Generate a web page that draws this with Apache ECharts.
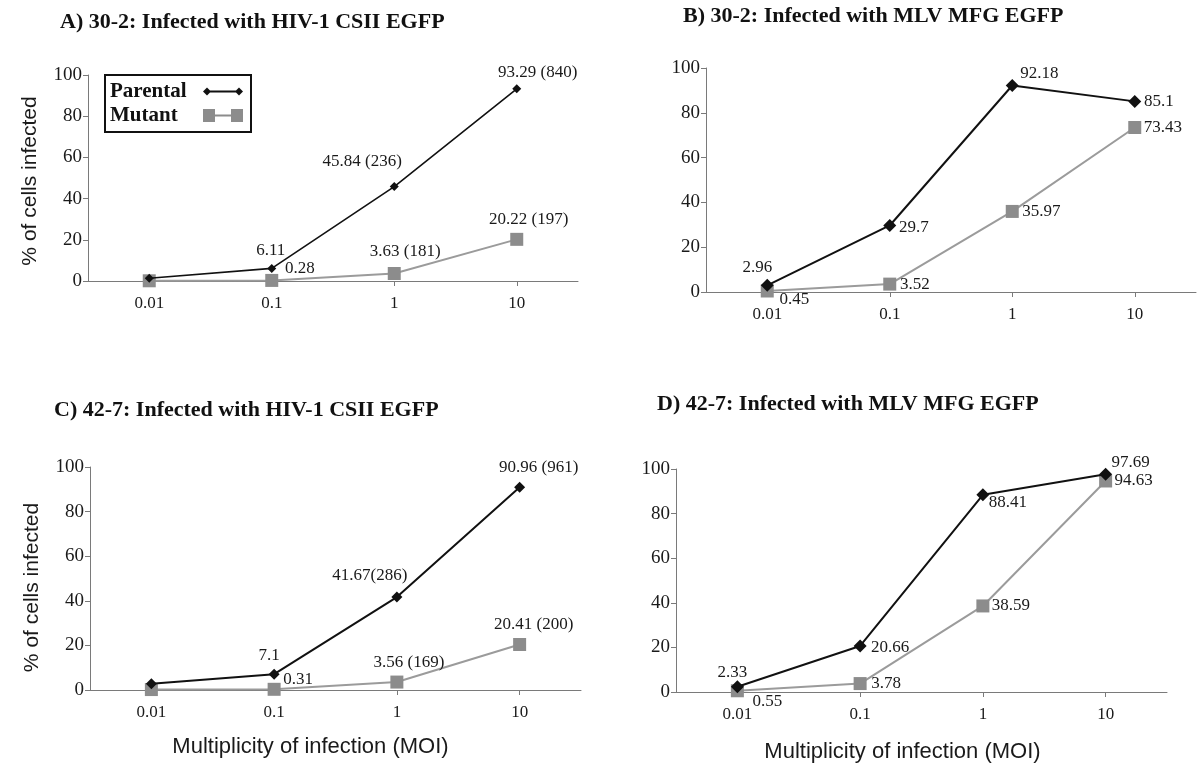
<!DOCTYPE html>
<html><head><meta charset="utf-8">
<script src="https://cdn.jsdelivr.net/npm/echarts@6/dist/echarts.min.js"></script>
<style>html,body{margin:0;padding:0;background:#fff}#c{width:1200px;height:772px}</style>
</head><body><div id="c"></div>
<script>
// ---- data ----
const categories = ['0.01', '0.1', '1', '10'];
const yTicks = [0, 20, 40, 60, 80, 100];
const titles = [
  'A) 30-2: Infected with HIV-1 CSII EGFP',
  'B) 30-2: Infected with MLV MFG EGFP',
  'C) 42-7: Infected with HIV-1 CSII EGFP',
  'D) 42-7: Infected with MLV MFG EGFP'
];
const seriesNames = ['Parental', 'Mutant'];
const yAxisName = '% of cells infected';
const xAxisName = 'Multiplicity of infection (MOI)';

const parentalA = [1.3, 6.11, 45.84, 93.29];
const mutantA   = [0.1, 0.28, 3.63, 20.22];
const parentalB = [2.96, 29.7, 92.18, 85.1];
const mutantB   = [0.45, 3.52, 35.97, 73.43];
const parentalC = [2.8, 7.1, 41.67, 90.96];
const mutantC   = [0.2, 0.31, 3.56, 20.41];
const parentalD = [2.33, 20.66, 88.41, 97.69];
const mutantD   = [0.55, 3.78, 38.59, 94.63];

const labelsParentalA = ['', '6.11', '45.84 (236)', '93.29 (840)'];
const labelsMutantA   = ['', '0.28', '3.63 (181)', '20.22 (197)'];
const labelsParentalB = ['2.96', '29.7', '92.18', '85.1'];
const labelsMutantB   = ['0.45', '3.52', '35.97', '73.43'];
const labelsParentalC = ['', '7.1', '41.67(286)', '90.96 (961)'];
const labelsMutantC   = ['', '0.31', '3.56 (169)', '20.41 (200)'];
const labelsParentalD = ['2.33', '20.66', '88.41', '97.69'];
const labelsMutantD   = ['0.55', '3.78', '38.59', '94.63'];

// ---- layout (label offsets from point centre, px) ----
const offParA = [[0,0],[-1,-18],[-32,-25],[21,-16]];
const offMutA = [[0,0],[28,-12],[11,-22],[12,-20]];
const offParB = [[-10,-18],[24,2],[27,-12],[24,0]];
const offMutB = [[27,9],[25,0],[29,0],[28,0]];
const offParC = [[0,0],[-5,-19],[-27,-22],[19,-20]];
const offMutC = [[0,0],[24,-10],[12,-20],[14,-20]];
const offParD = [[-5,-14],[30,2],[25,8],[25,-12]];
const offMutD = [[30,11],[26,0],[28,0],[28,0]];

const SERIF = "'Liberation Serif','Times New Roman',serif";
const SANS = "'Liberation Sans',Arial,sans-serif";

const grids = [
  {left: 88, top: 75, width: 490, height: 206},
  {left: 706, top: 68, width: 490, height: 224},
  {left: 90, top: 467, width: 491, height: 223},
  {left: 676, top: 469, width: 491, height: 223}
];
const titlePos = [[60, 11], [683, 5], [54, 399], [657, 393]];
const diamondSizes = [9, 13, 11, 13];
const xNamePad = [0, 0, 50, 38];
const yNamePad = [6, 0, 18, 0];

const panels = [
  [parentalA, mutantA, labelsParentalA, labelsMutantA, offParA, offMutA],
  [parentalB, mutantB, labelsParentalB, labelsMutantB, offParB, offMutB],
  [parentalC, mutantC, labelsParentalC, labelsMutantC, offParC, offMutC],
  [parentalD, mutantD, labelsParentalD, labelsMutantD, offParD, offMutD]
];

function mkData(vals, labels, offs) {
  return vals.map((v, i) => ({
    value: v,
    label: {show: labels[i] !== '', formatter: labels[i], position: 'inside', offset: offs[i]}
  }));
}

const labelStyle = {fontFamily: SERIF, fontSize: 17, color: '#1a1a1a'};

const option = {
  backgroundColor: '#fff',
  animation: false,
  title: titles.map((t, i) => ({
    text: t, left: titlePos[i][0], top: titlePos[i][1], padding: 0,
    textStyle: {fontFamily: SERIF, fontWeight: 'bold', fontSize: 22, color: '#111'}
  })),
  legend: {
    data: [
      {name: seriesNames[0], icon: 'path://M0,6.5L4,2.5L8,6.5L4,10.5Z M4,5.6H36V7.4H4Z M32,6.5L36,2.5L40,6.5L36,10.5Z'},
      {name: seriesNames[1], icon: 'path://M0,0H12V13H0Z M12,5.5H28V7.5H12Z M28,0H40V13H28Z'}
    ],
    orient: 'vertical', left: 105, top: 75, align: 'right',
    borderColor: '#111', borderWidth: 2, padding: [6, 8, 6, 5],
    itemWidth: 40, itemHeight: 13, itemGap: 3,
    formatter: '{n|{name}}',
    textStyle: {
      fontFamily: SERIF, fontWeight: 'bold', fontSize: 21, color: '#111',
      rich: {n: {width: 88, align: 'left', fontFamily: SERIF, fontWeight: 'bold', fontSize: 21, color: '#111'}}
    },
    selectedMode: false
  },
  grid: grids,
  xAxis: grids.map((g, i) => ({
    type: 'category', gridIndex: i, data: categories, boundaryGap: true,
    name: i >= 2 ? xAxisName : '', nameLocation: 'middle', nameGap: i === 2 ? 46 : 49,
    nameTextStyle: {fontFamily: SANS, fontSize: 22, color: '#1a1a1a', padding: [0, xNamePad[i], 0, 0]},
    axisLine: {lineStyle: {color: '#7a7a7a', width: 1}},
    axisTick: {show: true, alignWithLabel: true, length: 5, lineStyle: {color: '#7a7a7a'}},
    axisLabel: {fontFamily: SERIF, fontSize: 17, color: '#1a1a1a', margin: 14}
  })),
  yAxis: grids.map((g, i) => ({
    type: 'value', gridIndex: i, min: yTicks[0], max: yTicks[yTicks.length - 1], interval: 20,
    name: (i === 0 || i === 2) ? yAxisName : '', nameLocation: 'middle', nameRotate: 90, nameGap: 47,
    nameTextStyle: {fontFamily: SANS, fontSize: 21, color: '#1a1a1a', padding: [0, yNamePad[i], 0, 0]},
    splitLine: {show: false},
    axisLine: {show: true, lineStyle: {color: '#7a7a7a', width: 1}},
    axisTick: {show: true, length: 5, lineStyle: {color: '#7a7a7a'}},
    axisLabel: {fontFamily: SERIF, fontSize: 19, color: '#1a1a1a', margin: 6}
  })),
  series: panels.flatMap((p, i) => [
    {
      name: 'Mutant', type: 'line', xAxisIndex: i, yAxisIndex: i,
      data: mkData(p[1], p[3], p[5]),
      symbol: 'rect', symbolSize: 13,
      lineStyle: {color: '#9b9b9b', width: 2},
      itemStyle: {color: '#8c8c8c'},
      label: labelStyle, z: 2
    },
    {
      name: 'Parental', type: 'line', xAxisIndex: i, yAxisIndex: i,
      data: mkData(p[0], p[2], p[4]),
      symbol: 'diamond', symbolSize: diamondSizes[i],
      lineStyle: {color: '#111', width: i === 0 ? 1.6 : 2},
      itemStyle: {color: '#111'},
      label: labelStyle, z: 3
    }
  ])
};

const chart = echarts.init(document.getElementById('c'), null, {renderer: 'canvas'});
chart.setOption(option);
</script></body></html>
